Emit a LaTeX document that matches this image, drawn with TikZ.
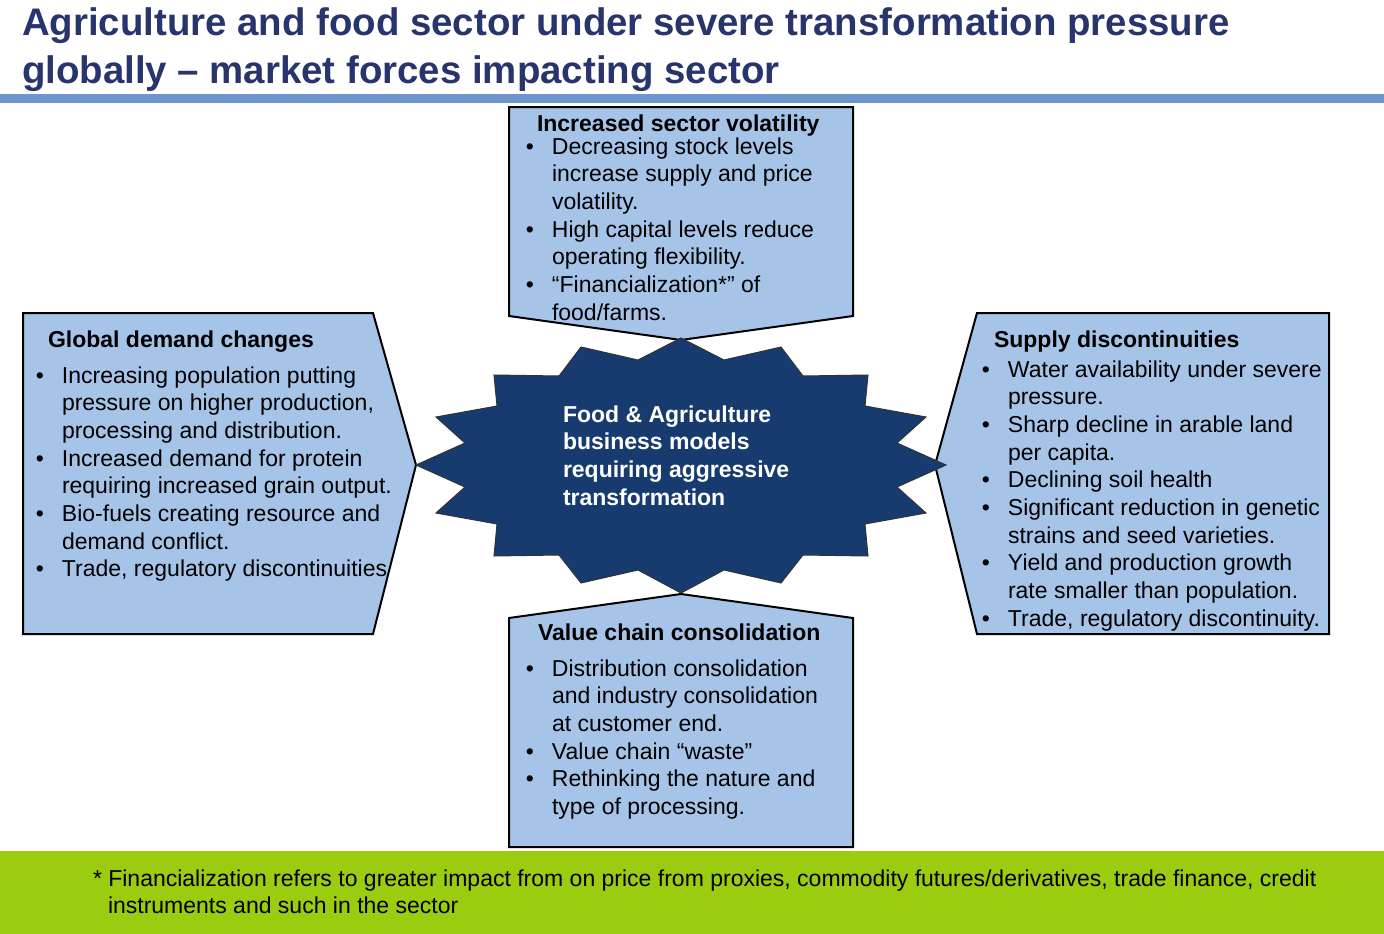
\documentclass[tikz,border=0pt]{standalone}
\usepackage{fontspec}
\setmainfont{Liberation Sans}
\definecolor{titlenavy}{RGB}{40,52,108}
\definecolor{barblue}{RGB}{110,150,205}
\definecolor{boxblue}{RGB}{166,196,232}
\definecolor{starnavy}{RGB}{23,59,110}
\definecolor{footgreen}{RGB}{155,204,16}
\newcommand\bul{\llap{\textbullet\hspace{18pt}}}
\begin{document}
\begin{tikzpicture}[x=1pt,y=-1pt,
  boxshape/.style={draw=black,line width=2pt,fill=boxblue,line join=miter},
  starshape/.style={draw=black!80,line width=1pt,fill=starnavy},
  txt/.style={anchor=base west,inner sep=0pt,outer sep=0pt,font=\fontsize{23}{27.7}\selectfont},
  hdr/.style={anchor=base west,inner sep=0pt,outer sep=0pt,font=\fontsize{23}{27.7}\selectfont\bfseries},
  startxt/.style={hdr,text=white},
  titletxt/.style={anchor=base west,inner sep=0pt,outer sep=0pt,text=titlenavy,font=\fontsize{38.4}{46}\selectfont\bfseries}]
\useasboundingbox (0,0) rectangle (1384,934);
\fill[white] (0,0) rectangle (1384,934);
% title
\node[titletxt] (t1) at (22,36) {Agriculture and food sector under severe transformation pressure};
\node[titletxt] (t2) at (22,83) {globally -- market forces impacting sector};
\fill[barblue] (0,94) rectangle (1384,103);
% footer
\fill[footgreen] (0,851) rectangle (1384,934);
\node[txt] (f1) at (93,886) {* Financialization refers to greater impact from on price from proxies, commodity futures/derivatives, trade finance, credit};
\node[txt] (f2) at (108,913) {instruments and such in the sector};
% boxes
\draw[boxshape] (509,107) -- (853,107) -- (853,316) -- (681,340) -- (509,316) -- cycle;
\draw[boxshape] (23,313) -- (373,313) -- (416,465) -- (373,634) -- (23,634) -- cycle;
\draw[boxshape] (977,313) -- (1329,313) -- (1329,634) -- (977,634) -- (935,465) -- cycle;
\draw[boxshape] (509,618) -- (681,594) -- (853,618) -- (853,847) -- (509,847) -- cycle;
% star
\draw[starshape] (681,338) -- (724,360) -- (781,347) -- (803,376) -- (868,375) -- (865,406) -- (926,417) -- (897,443) -- (946,465) -- (897,487) -- (926,513) -- (865,524) -- (868,556) -- (803,555) -- (781,583) -- (724,570) -- (681,593) -- (638,570) -- (581,583) -- (559,555) -- (494,556) -- (497,524) -- (436,513) -- (465,487) -- (416,465) -- (465,443) -- (436,417) -- (497,406) -- (494,375) -- (559,376) -- (581,347) -- (638,360) -- cycle;
\foreach \t [count=\i from 0] in {{Food \& Agriculture},{business models},{requiring aggressive},{transformation}}
  \node[startxt] (s\i) at (563,{422+27.7*\i}) {\t};
% top box text
\node[hdr] (vh) at (537,131) {Increased sector volatility};
\foreach \t [count=\i from 0] in {{\bul Decreasing stock levels},{increase supply and price},{volatility.},{\bul High capital levels reduce},{operating flexibility.},{\bul “Financialization*” of},{food/farms.}}
  \node[txt] (v\i) at (552,{154+27.7*\i}) {\t};
% left box text
\node[hdr] (gh) at (48,347) {Global demand changes};
\foreach \t [count=\i from 0] in {{\bul Increasing population putting},{pressure on higher production,},{processing and distribution.},{\bul Increased demand for protein},{requiring increased grain output.},{\bul Bio-fuels creating resource and},{demand conflict.},{\bul Trade, regulatory discontinuities}}
  \node[txt] (g\i) at (62,{383+27.7*\i}) {\t};
% right box text
\node[hdr] (sh) at (994,347) {Supply discontinuities};
\foreach \t [count=\i from 0] in {{\bul Water availability under severe},{pressure.},{\bul Sharp decline in arable land},{per capita.},{\bul Declining soil health},{\bul Significant reduction in genetic},{strains and seed varieties.},{\bul Yield and production growth},{rate smaller than population.},{\bul Trade, regulatory discontinuity.}}
  \node[txt] (r\i) at (1008,{377+27.7*\i}) {\t};
% bottom box text
\node[hdr] (ch) at (538,640) {Value chain consolidation};
\foreach \t [count=\i from 0] in {{\bul Distribution consolidation},{and industry consolidation},{at customer end.},{\bul Value chain “waste”},{\bul Rethinking the nature and},{type of processing.}}
  \node[txt] (c\i) at (552,{676+27.7*\i}) {\t};
\end{tikzpicture}
\end{document}
